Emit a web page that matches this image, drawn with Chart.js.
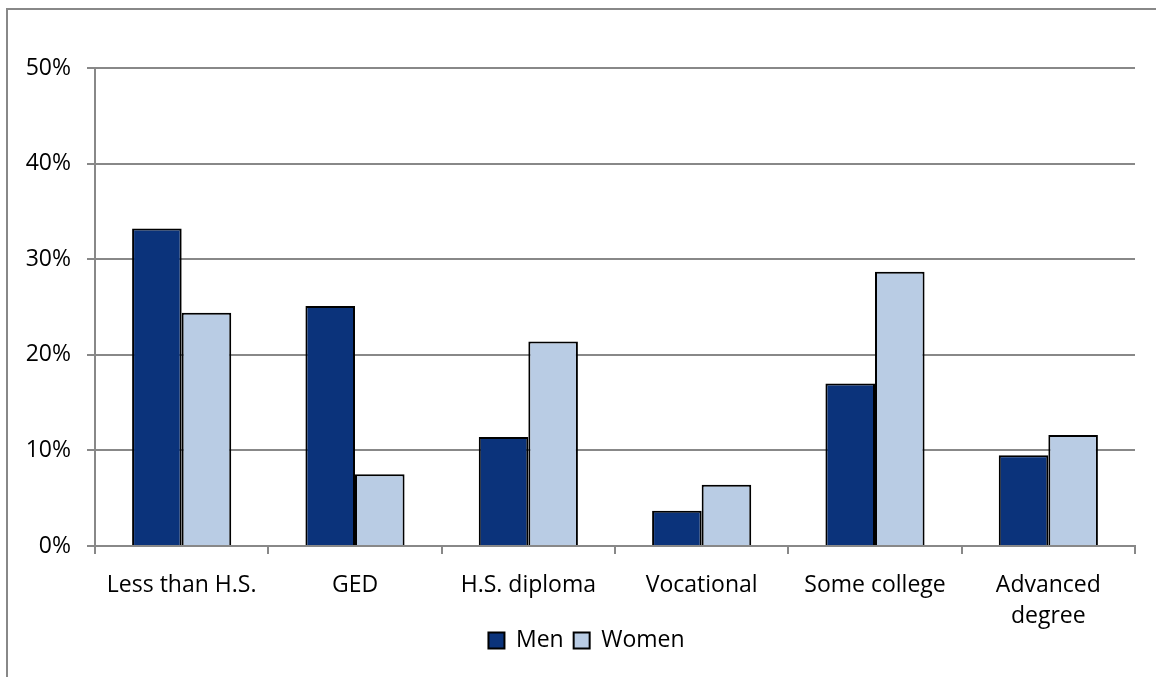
<!DOCTYPE html>
<html>
<head>
<meta charset="utf-8">
<script src="https://cdn.jsdelivr.net/npm/chart.js@4/dist/chart.umd.min.js"></script>
<style>
  html, body { margin: 0; padding: 0; background: #fff; overflow: hidden; }
  #wrap { position: relative; width: 1156px; height: 677px; }
  #frame { position: absolute; left: 6px; top: 8px; width: 1200px; height: 700px; border: 2px solid #888; box-sizing: border-box; }
  #chart { position: absolute; left: 0; top: 0; }
</style>
</head>
<body>
<div id="wrap">
  <div id="frame"></div>
  <canvas id="chart" width="1156" height="677"></canvas>
</div>
<script>
// education level categories
var niveis = ['Less than H.S.', 'GED', 'H.S. diploma', 'Vocational', 'Some college', ['Advanced', 'degree']];

// share of each group, in percent
var homens = [33.2, 25.1, 11.4, 3.7, 17.0, 9.5];
var mulheres = [24.4, 7.5, 21.4, 6.4, 28.7, 11.6];

var eixoY = { min: 0, max: 50, passo: 10 };

var fonte = { family: 'Open Sans', size: 23 };
var cinza = '#888888';

// empurra a legenda para a direita e para cima
var deslocaLegenda = {
    id: 'deslocaLegenda',
    afterLayout: function(chart) {
        var leg = chart.legend;
        if (leg) {
            leg.left += 19;
            leg.right += 19;
            leg.top -= 13;
            leg.bottom -= 13;
        }
    }
};

var ctx = document.getElementById('chart').getContext('2d');

var grafico = new Chart(ctx, {
    type: 'bar',
    data: {
        labels: niveis,
        datasets: [{
            label: 'Men',
            data: homens,
            backgroundColor: '#0b337b',
            borderColor: '#000',
            borderWidth: 2,
            borderSkipped: 'bottom'
        }, {
            label: 'Women',
            data: mulheres,
            backgroundColor: '#b9cce4',
            borderColor: '#000',
            borderWidth: 2,
            borderSkipped: 'bottom'
        }]
    },
    options: {
        responsive: false,
        animation: false,
        datasets: {
            bar: {
                categoryPercentage: 0.572,
                barPercentage: 1
            }
        },
        layout: {
            padding: { left: 0, right: 21, top: 68, bottom: 2 }
        },
        scales: {
            x: {
                grid: {
                    offset: true,
                    drawOnChartArea: false,
                    drawTicks: true,
                    tickLength: 8,
                    color: cinza,
                    lineWidth: 2
                },
                border: { color: cinza, width: 2 },
                ticks: {
                    color: '#000',
                    font: { family: 'Open Sans', size: 23, lineHeight: 1.35 },
                    padding: 16,
                    maxRotation: 0,
                    autoSkip: false
                },
                afterFit: function(scale) {
                    scale.height = 86;
                }
            },
            y: {
                min: eixoY.min,
                max: eixoY.max,
                grid: {
                    color: cinza,
                    lineWidth: 2,
                    tickLength: 8
                },
                border: { color: cinza, width: 2 },
                ticks: {
                    stepSize: eixoY.passo,
                    color: '#000',
                    font: fonte,
                    padding: 16,
                    callback: function(valor) {
                        return valor + '%';
                    }
                },
                afterFit: function(scale) {
                    scale.width = 95;
                }
            }
        },
        plugins: {
            legend: {
                position: 'bottom',
                labels: {
                    color: '#000',
                    font: fonte,
                    boxWidth: 16,
                    boxHeight: 16,
                    padding: 10
                }
            },
            tooltip: { enabled: false }
        }
    },
    plugins: [deslocaLegenda]
});
</script>
</body>
</html>
